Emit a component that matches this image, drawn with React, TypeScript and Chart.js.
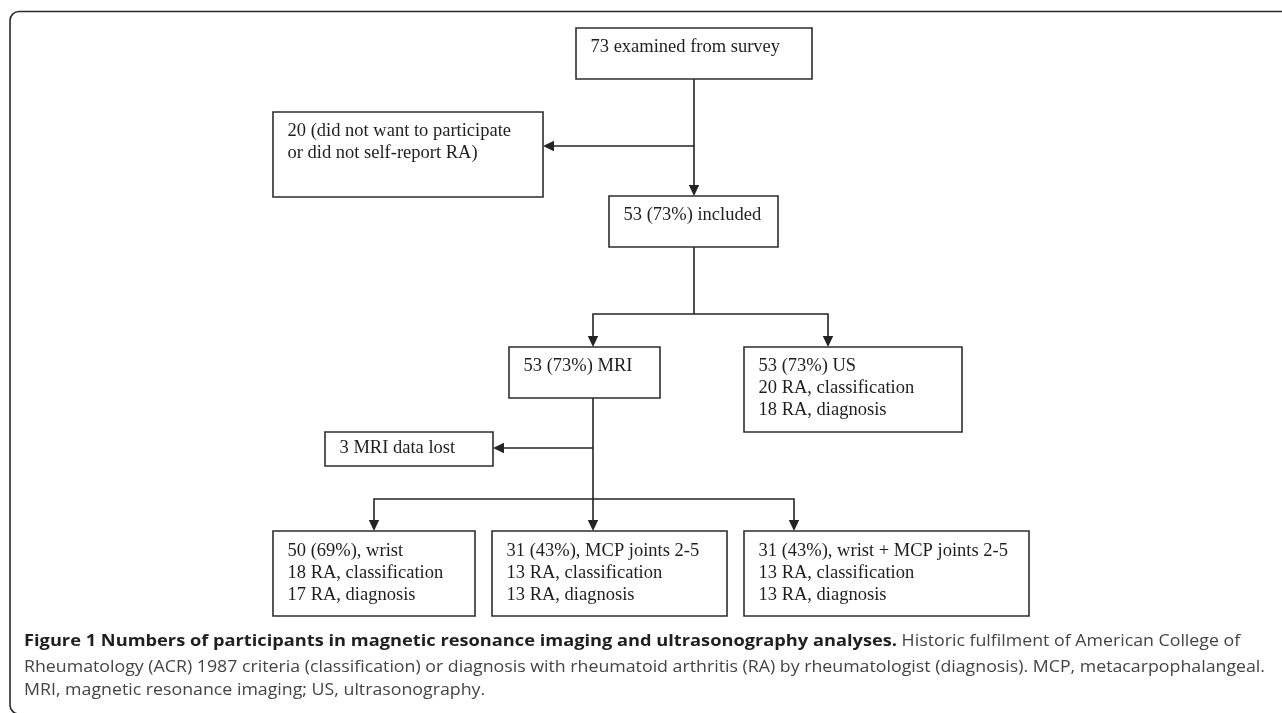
import React, { useEffect, useRef } from "react";
import { Chart, registerables } from "chart.js";

Chart.register(...registerables);

const W = 1282;
const H = 713;

// Flowchart node labels
const nodeLabels: string[][] = [
  ["73 examined from survey"],
  ["20 (did not want to participate", "or did not self-report RA)"],
  ["53 (73%) included"],
  ["53 (73%) MRI"],
  ["53 (73%) US", "20 RA, classification", "18 RA, diagnosis"],
  ["3 MRI data lost"],
  ["50 (69%), wrist", "18 RA, classification", "17 RA, diagnosis"],
  ["31 (43%), MCP joints 2-5", "13 RA, classification", "13 RA, diagnosis"],
  ["31 (43%), wrist + MCP joints 2-5", "13 RA, classification", "13 RA, diagnosis"],
];

// Node layout in chart units: [x0, y0, x1, y1]
const nodeBoxes: number[][] = [
  [576, 28, 812, 79],
  [273, 112, 543, 197],
  [609, 196, 778, 247],
  [509, 347, 660, 398],
  [744, 347, 962, 432],
  [325, 432, 493, 466],
  [273, 531, 475, 616],
  [492, 531, 727, 616],
  [744, 531, 1029, 616],
];
// First text line offset from the box top
const nodeTextTop: number[] = [19, 19.5, 19.5, 19.5, 19.5, 16.5, 20.5, 20.5, 20.5];

// Connector polylines (chart units)
const connectors: number[][][] = [
  [[694, 79], [694, 190]],
  [[694, 146], [549, 146]],
  [[694, 247], [694, 314]],
  [[593, 341], [593, 314], [828, 314], [828, 341]],
  [[593, 398], [593, 525]],
  [[593, 448], [499, 448]],
  [[374, 525], [374, 499], [794, 499], [794, 525]],
];

// Arrow tips: [x, y, direction x, direction y]
const arrowTips: number[][] = [
  [694, 196, 0, 1],
  [543, 146, -1, 0],
  [593, 347, 0, 1],
  [828, 347, 0, 1],
  [593, 531, 0, 1],
  [493, 448, -1, 0],
  [374, 531, 0, 1],
  [794, 531, 0, 1],
];

const captionBold =
  "Figure 1 Numbers of participants in magnetic resonance imaging and ultrasonography analyses.";
const captionLines: string[] = [
  " Historic fulfilment of American College of",
  "Rheumatology (ACR) 1987 criteria (classification) or diagnosis with rheumatoid arthritis (RA) by rheumatologist (diagnosis). MCP, metacarpophalangeal.",
  "MRI, magnetic resonance imaging; US, ultrasonography.",
];
const captionY: number[] = [641, 667, 690];

const LINE_COLOR = "#232323";
const BOX_COLOR = "#2e2e2e";
const ARROW_LEN = 11;
const ARROW_HALF = 5.2;

export default function App() {
  const ref = useRef<HTMLCanvasElement>(null);

  useEffect(() => {
    const canvas = ref.current;
    if (!canvas) return;

    const datasets: any[] = [];

    nodeBoxes.forEach((b) => {
      const [x0, y0, x1, y1] = b;
      datasets.push({
        data: [
          { x: x0, y: y0 },
          { x: x1, y: y0 },
          { x: x1, y: y1 },
          { x: x0, y: y1 },
          { x: x0, y: y0 },
        ],
        showLine: true,
        borderColor: BOX_COLOR,
        borderWidth: 1.6,
        borderCapStyle: "square",
        borderJoinStyle: "miter",
        pointRadius: 0,
        fill: false,
        tension: 0,
      });
    });

    connectors.forEach((c) => {
      datasets.push({
        data: c.map(([x, y]) => ({ x, y })),
        showLine: true,
        borderColor: LINE_COLOR,
        borderWidth: 1.6,
        borderJoinStyle: "miter",
        pointRadius: 0,
        fill: false,
        tension: 0,
      });
    });

    const framePlugin = {
      id: "frame",
      beforeDatasetsDraw(chart: any) {
        const { ctx, scales } = chart;
        const px = (v: number) => scales.x.getPixelForValue(v);
        const py = (v: number) => scales.y.getPixelForValue(v);
        const l = px(10), t = py(11.5), r = px(1300), b = py(714);
        const rad = 9;
        ctx.save();
        ctx.strokeStyle = "#2a2a2a";
        ctx.lineWidth = 1.6;
        ctx.beginPath();
        ctx.moveTo(r, t);
        ctx.lineTo(l + rad, t);
        ctx.arcTo(l, t, l, t + rad, rad);
        ctx.lineTo(l, b - rad);
        ctx.arcTo(l, b, l + rad, b, rad);
        ctx.lineTo(r, b);
        ctx.stroke();
        ctx.restore();
      },
    };

    const arrowPlugin = {
      id: "arrows",
      afterDatasetsDraw(chart: any) {
        const { ctx, scales } = chart;
        const px = (v: number) => scales.x.getPixelForValue(v);
        const py = (v: number) => scales.y.getPixelForValue(v);
        ctx.save();
        ctx.fillStyle = LINE_COLOR;
        arrowTips.forEach(([x, y, dx, dy]) => {
          const tx = px(x), ty = py(y);
          const bx = tx - dx * ARROW_LEN, by = ty - dy * ARROW_LEN;
          const nx = -dy, ny = dx;
          ctx.beginPath();
          ctx.moveTo(tx, ty);
          ctx.lineTo(bx + nx * ARROW_HALF, by + ny * ARROW_HALF);
          ctx.lineTo(bx - nx * ARROW_HALF, by - ny * ARROW_HALF);
          ctx.closePath();
          ctx.fill();
        });
        ctx.restore();
      },
    };

    const textPlugin = {
      id: "nodeText",
      afterDatasetsDraw(chart: any) {
        const { ctx, scales } = chart;
        const px = (v: number) => scales.x.getPixelForValue(v);
        const py = (v: number) => scales.y.getPixelForValue(v);
        ctx.save();
        ctx.font = "18.5px 'Liberation Serif', 'Times New Roman', serif";
        ctx.fillStyle = "#1e1e1e";
        ctx.textBaseline = "middle";
        ctx.textAlign = "left";
        nodeLabels.forEach((lines, i) => {
          const [x0, y0] = nodeBoxes[i];
          lines.forEach((s, j) => {
            ctx.fillText(s, px(x0 + 14.5), py(y0 + nodeTextTop[i] + j * 21.7));
          });
        });
        ctx.restore();

        // caption
        ctx.save();
        const regFont = "16px 'Open Sans', 'Noto Sans', sans-serif";
        const boldFont = "bold 16px 'Open Sans', 'Noto Sans', sans-serif";
        ctx.textBaseline = "middle";
        ctx.font = regFont;
        const w2 = ctx.measureText(captionLines[1]).width;
        const startX = px(24);
        const sx = (px(1265) - startX) / w2;
        ctx.font = boldFont;
        const bwRaw = ctx.measureText(captionBold).width;
        const sxB = (px(897) - startX) / bwRaw;
        // bold lead
        ctx.save();
        ctx.translate(startX, py(captionY[0]));
        ctx.scale(sxB, 1);
        ctx.font = boldFont;
        ctx.fillStyle = "#1f1f1f";
        ctx.fillText(captionBold, 0, 0);
        ctx.restore();
        // rest of line 1
        ctx.save();
        ctx.translate(px(897), py(captionY[0]));
        ctx.scale(sx, 1);
        ctx.font = regFont;
        ctx.fillStyle = "#444444";
        ctx.fillText(captionLines[0], 0, 0);
        ctx.restore();
        for (let k = 1; k < captionLines.length; k++) {
          ctx.save();
          ctx.translate(startX, py(captionY[k]));
          ctx.scale(sx, 1);
          ctx.font = regFont;
          ctx.fillStyle = "#444444";
          ctx.fillText(captionLines[k], 0, 0);
          ctx.restore();
        }
        ctx.restore();
      },
    };

    const chart = new Chart(canvas, {
      type: "scatter",
      data: { datasets },
      options: {
        animation: false,
        responsive: false,
        devicePixelRatio: 1,
        events: [],
        layout: { padding: 0, autoPadding: false },
        scales: {
          x: { type: "linear", min: 0, max: W, display: false },
          y: { type: "linear", min: 0, max: H, reverse: true, display: false },
        },
        plugins: {
          legend: { display: false },
          tooltip: { enabled: false },
          title: { display: false },
        },
      },
      plugins: [framePlugin, arrowPlugin, textPlugin],
    } as any);

    return () => chart.destroy();
  }, []);

  return (
    <div style={{ position: "absolute", left: 0, top: 0, width: W, height: H, background: "#fff" }}>
      <canvas ref={ref} width={W} height={H} style={{ display: "block", width: W, height: H }} />
    </div>
  );
}
